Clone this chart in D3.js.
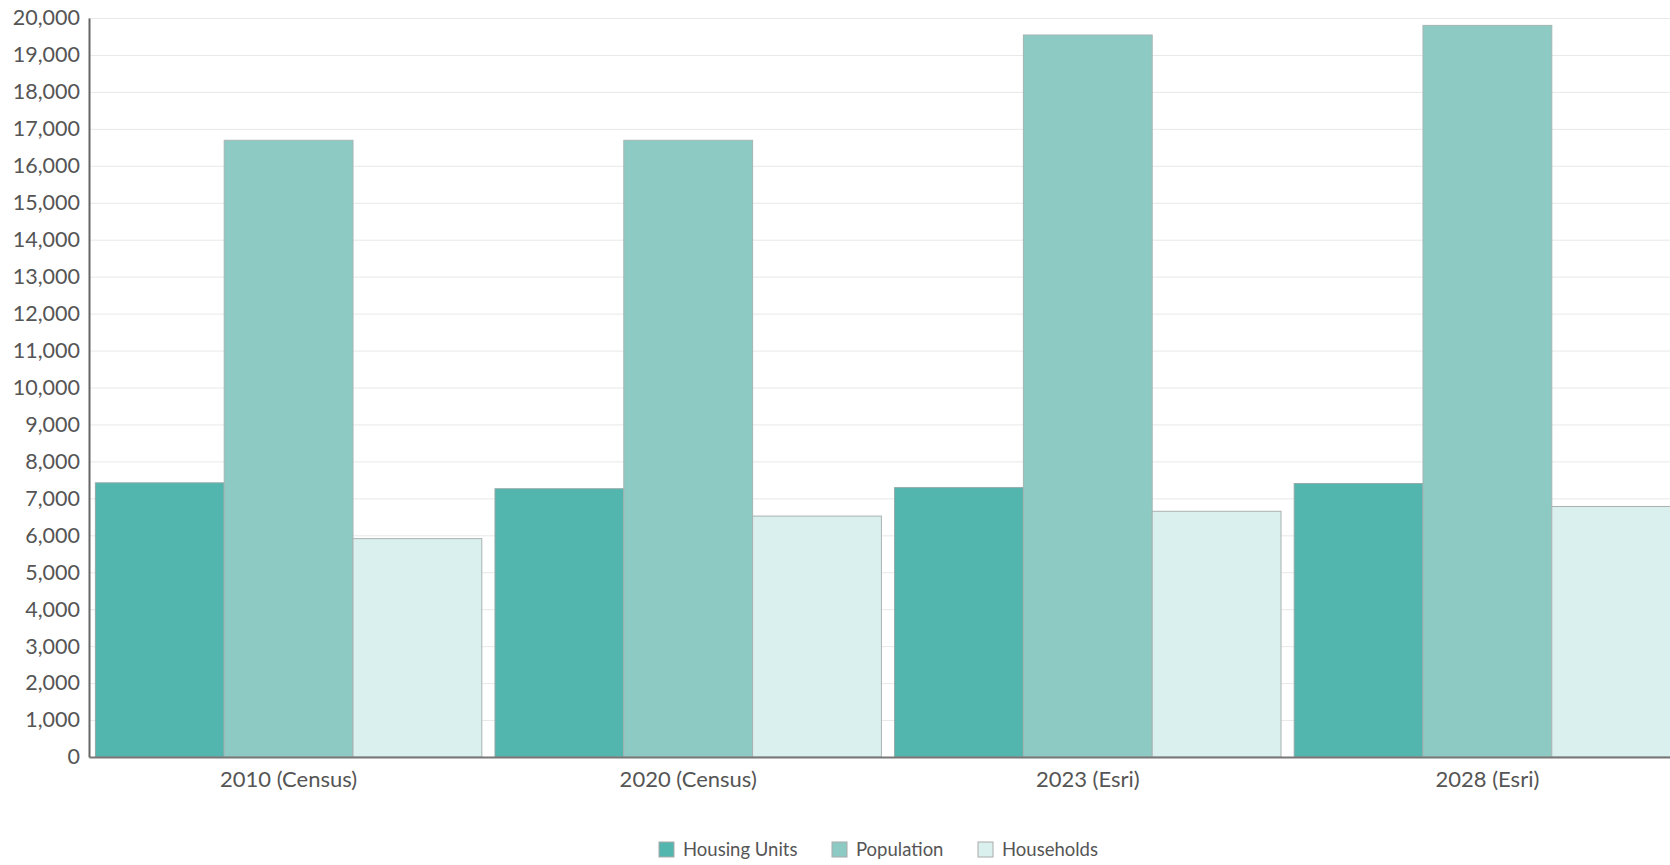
<!DOCTYPE html>
<html>
<head>
<meta charset="utf-8">
<script src="https://cdn.jsdelivr.net/npm/d3@7"></script>
<style>
  body { margin: 0; background: #fff; }
  svg { display: block; font-family: Lato, "Open Sans", sans-serif; }
</style>
</head>
<body>
<svg id="chart"></svg>
<script>
// data
var categories = ["2010 (Census)", "2020 (Census)", "2023 (Esri)", "2028 (Esri)"];
var seriesNames = ["Housing Units", "Population", "Households"];
var housingUnits = [7420, 7260, 7290, 7400];
var population = [16690, 16690, 19540, 19800];
var households = [5910, 6520, 6650, 6780];
var yTicks = d3.range(0, 20001, 1000);

var colors = ["#52b5ae", "#8ecac4", "#daf0ef"];
var strokes = ["#8fa9a6", "#a3b5b3", "#a9b2b1"];

var width = 1670, height = 865;
var svg = d3.select("#chart").attr("width", width).attr("height", height);

var plotLeft = 89, plotTop = 18, plotBottom = 757;

var x = d3.scaleBand()
  .domain(categories)
  .range([plotLeft, plotLeft + 1598])
  .paddingInner(0.033)
  .paddingOuter(0.016);

var xs = d3.scaleBand()
  .domain(seriesNames)
  .range([0, x.bandwidth()]);

var y = d3.scaleLinear().domain([0, 20000]).range([plotBottom, plotTop]);

// grid
svg.append("g")
  .selectAll("line")
  .data(yTicks.slice(1))
  .enter()
  .append("line")
  .attr("x1", plotLeft)
  .attr("x2", width)
  .attr("y1", function (d) { return y(d) + 0.5; })
  .attr("y2", function (d) { return y(d) + 0.5; })
  .attr("stroke", "#e8e8e8")
  .attr("stroke-width", 1);

var rows = categories.map(function (c, i) {
  return { cat: c, values: [housingUnits[i], population[i], households[i]] };
});

var groups = svg.selectAll("g.grp")
  .data(rows)
  .enter()
  .append("g")
  .attr("class", "grp")
  .attr("transform", function (d) { return "translate(" + x(d.cat) + ",0)"; });

groups.selectAll("rect")
  .data(function (d) {
    return d.values.map(function (v, j) { return { name: seriesNames[j], value: v, j: j }; });
  })
  .enter()
  .append("rect")
  .attr("x", function (d) { return xs(d.name); })
  .attr("y", function (d) { return y(d.value); })
  .attr("width", xs.bandwidth())
  .attr("height", function (d) { return y(0) - y(d.value); })
  .attr("fill", function (d) { return colors[d.j]; })
  .attr("stroke", function (d) { return strokes[d.j]; })
  .attr("stroke-width", 1);

// axes
var yAxis = svg.append("g")
  .attr("transform", "translate(" + plotLeft + ",0)")
  .call(d3.axisLeft(y).tickValues(yTicks).tickSize(0).tickPadding(9).tickFormat(d3.format(",")));
yAxis.attr("font-family", null);
yAxis.select(".domain").attr("stroke", "#666").attr("stroke-width", 2);
yAxis.selectAll("text").attr("fill", "#555").style("font-size", "21.5px");

var xAxis = svg.append("g")
  .attr("transform", "translate(0," + plotBottom + ")")
  .call(d3.axisBottom(x).tickSize(0).tickPadding(14));
xAxis.attr("font-family", null);
xAxis.select(".domain").attr("stroke", "#777").attr("stroke-width", 2);
xAxis.selectAll("text").attr("fill", "#555").style("font-size", "22px");

// legend
var legendX = [659, 832, 978];
var legende = svg.selectAll(".legend")
  .data(seriesNames)
  .enter()
  .append("g")
  .attr("class", "legend")
  .attr("transform", function (d, i) { return "translate(" + legendX[i] + ",842)"; });

legende.append("rect")
  .attr("width", 15)
  .attr("height", 15)
  .attr("fill", function (d, i) { return colors[i]; })
  .attr("stroke", "#aaa");

legende.append("text")
  .attr("x", 24)
  .attr("y", 14)
  .attr("fill", "#555")
  .style("font-size", "18.5px")
  .text(function (d) { return d; });
</script>
</body>
</html>
